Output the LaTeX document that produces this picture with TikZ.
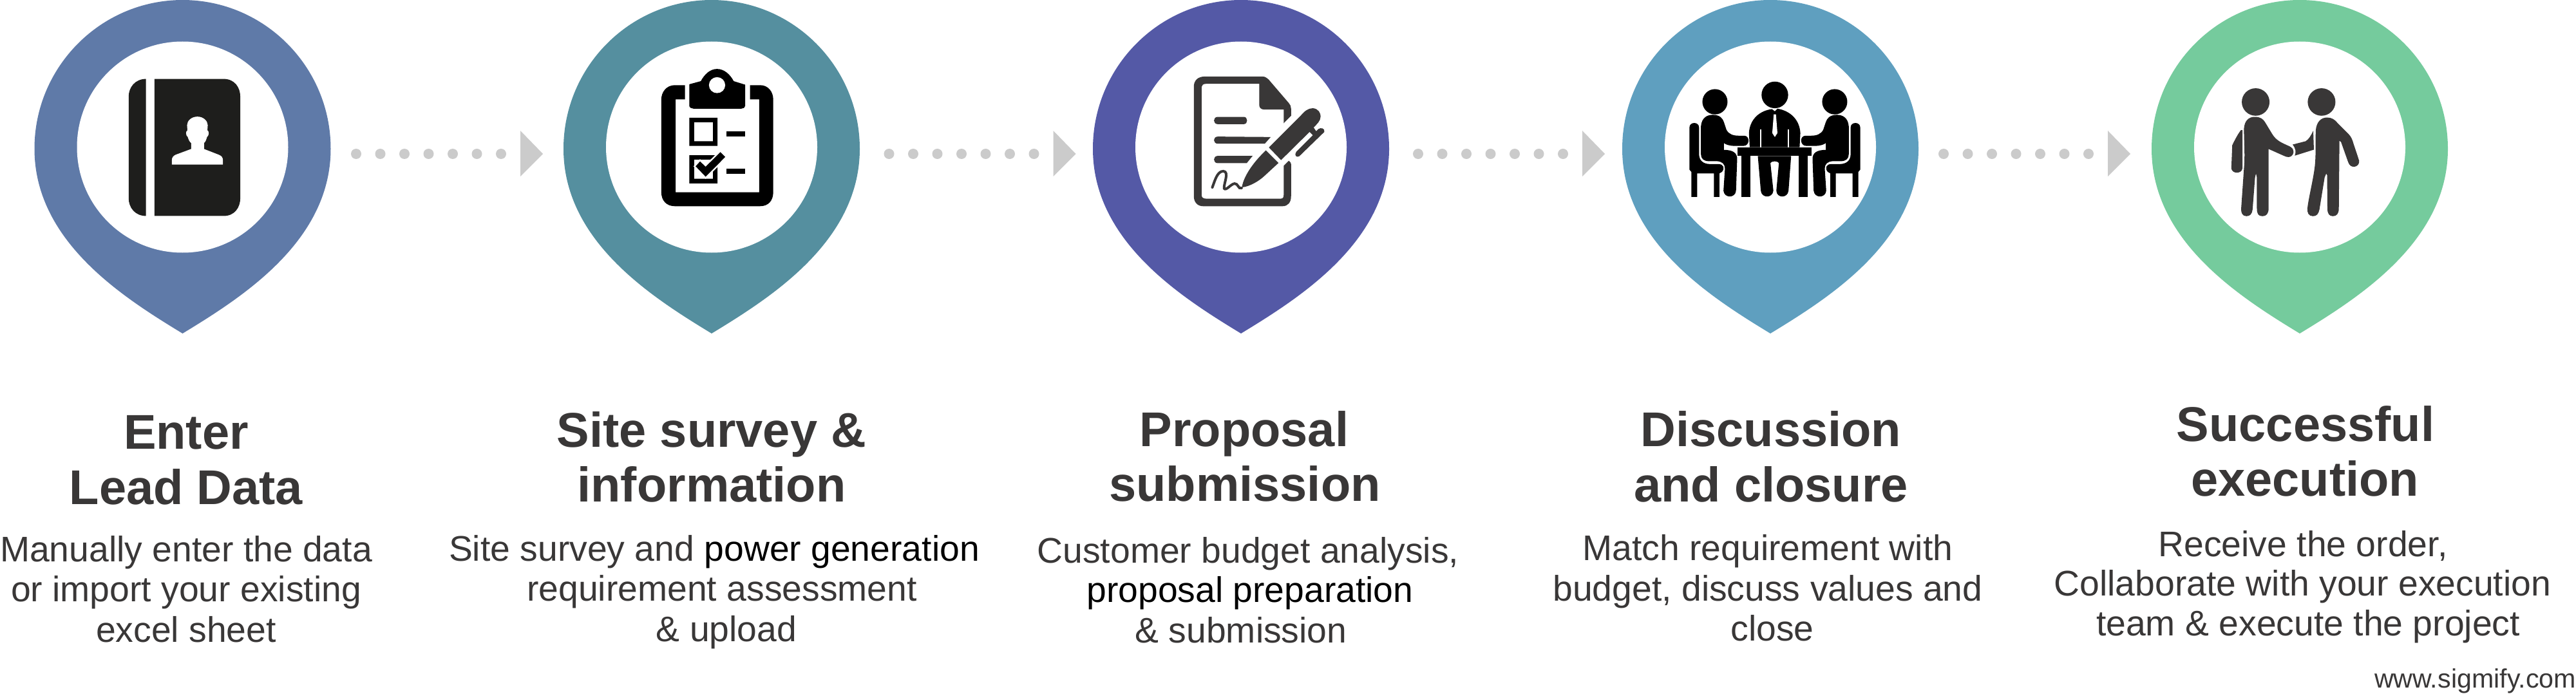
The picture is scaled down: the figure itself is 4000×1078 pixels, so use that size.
\documentclass[tikz,border=0pt]{standalone}
\usepackage{fontspec}
\setmainfont{Liberation Sans}
\usetikzlibrary{calc}
\definecolor{pinA}{HTML}{5F7AA8}
\definecolor{pinB}{HTML}{558F9F}
\definecolor{pinC}{HTML}{5459A6}
\definecolor{pinD}{HTML}{5F9FBF}
\definecolor{pinE}{HTML}{75CB9D}
\definecolor{flowgrey}{HTML}{CBCBCB}
\definecolor{inkdark}{HTML}{393737}
\definecolor{bookink}{HTML}{1E1E1C}
\tikzset{
  pinhole/.style={circle,fill=white,minimum size=328pt,inner sep=0pt,outer sep=0pt},
  titletext/.style={anchor=base,inner sep=0pt,text=inkdark,font=\fontsize{75.8}{85}\selectfont\bfseries},
  bodytext/.style={anchor=base,inner sep=0pt,text=inkdark,font=\fontsize{55.3}{62}\selectfont},
  webtext/.style={anchor=base east,inner sep=0pt,text=inkdark,font=\fontsize{41.2}{46}\selectfont},
  zoomA/.style={x=0.574pt,y=-0.3444pt},
  zoomB/.style={x=0.4783pt,y=-0.3444pt},
}
\newcommand{\pinmark}[3]{%
  \begin{scope}[shift={(#1,0)}]
    \fill[#2] (0,0) .. controls (127,0) and (230,104) .. (230,231)
      .. controls (230,375) and (92,462) .. (0,518)
      .. controls (-92,462) and (-230,375) .. (-230,231)
      .. controls (-230,104) and (-127,0) .. (0,0) -- cycle;
    \node[pinhole] (#3) at (0,228.5) {};
  \end{scope}}
\newcommand{\dotflow}[2]{%
  \coordinate (#1s) at (#2,239);
  \coordinate (#1e) at ($(#1s)+(225,0)$);
  \foreach \k in {0,...,6}
    \fill[flowgrey] ($(#1s)!\k/6!(#1e)$) circle[radius=8pt];
  \fill[flowgrey] ($(#1s)+(255,-36)$) -- ($(#1s)+(290,0)$) -- ($(#1s)+(255,35)$) -- cycle;}
\newcommand{\sideperson}{%
  \fill (371,459) ellipse[x radius=34,y radius=57];
  \fill (333,570) .. controls (335,530) and (350,518) .. (365,518)
    .. controls (385,518) and (392,535) .. (395,550) -- (402,585)
    .. controls (408,605) and (420,612) .. (435,612) -- (450,612)
    .. controls (466,612) and (466,658) .. (448,658) -- (425,658)
    .. controls (410,658) and (400,652) .. (395,645) -- (395,676)
    .. controls (420,676) and (432,690) .. (431,720) -- (428,860)
    .. controls (426,895) and (396,895) .. (394,860) -- (398,760)
    .. controls (398,740) and (390,727) .. (375,727) -- (355,727)
    .. controls (340,727) and (333,715) .. (333,695) -- cycle;
  \fill (302,575) .. controls (302,548) and (328,548) .. (328,575) -- (328,695)
    .. controls (328,725) and (340,740) .. (358,740) -- (380,740)
    .. controls (395,740) and (398,760) .. (390,775) -- (383,782) -- (383,888)
    -- (368,888) -- (368,782) -- (323,782) -- (323,888) -- (307,888) -- (307,775) -- (302,765) -- cycle;}
\begin{document}
\begin{tikzpicture}[x=1pt,y=-1pt]
\useasboundingbox (0,0) rectangle (4000,1078);
\fill[white] (0,0) rectangle (4000,1078);

% pins
\pinmark{283.5}{pinA}{pinone}
\pinmark{1105}{pinB}{pintwo}
\pinmark{1927}{pinC}{pinthree}
\pinmark{2749}{pinD}{pinfour}
\pinmark{3571}{pinE}{pinfive}

% dotted flows
\dotflow{fa}{553}
\dotflow{fb}{1380.5}
\dotflow{fc}{2202}
\dotflow{fd}{3018}

% icon 1: contact book
\begin{scope}[shift={(0,0)},zoomA]
  \fill[bookink] (395,356) .. controls (365,356) and (348,395) .. (348,436) -- (348,894)
    .. controls (348,935) and (365,974) .. (395,974) -- cycle;
  \fill[bookink] (418,356) -- (605,356) .. controls (635,356) and (650,395) .. (650,436) -- (650,894)
    .. controls (650,935) and (635,974) .. (605,974) -- (418,974) -- cycle;
  \fill[white] (534,526) .. controls (518,526) and (506,545) .. (506,565) -- (507,588)
    .. controls (502,590) and (502,612) .. (508,618)
    .. controls (510,630) and (513,640) .. (517,645) -- (517,672) -- (475,698)
    .. controls (468,703) and (465,712) .. (465,722) -- (465,742) -- (603,742) -- (603,722)
    .. controls (603,712) and (600,703) .. (592,698) -- (552,672) -- (552,645)
    .. controls (556,640) and (558,630) .. (560,618)
    .. controls (566,612) and (566,590) .. (561,588) -- (562,565)
    .. controls (562,545) and (550,526) .. (534,526) -- cycle;
\end{scope}

% icon 2: clipboard
\begin{scope}[shift={(850,0)},zoomA]
  \fill[black] (372,384) -- (345,384) .. controls (322,384) and (308,415) .. (308,450) -- (308,865)
    .. controls (308,905) and (322,930) .. (345,930) -- (575,930)
    .. controls (598,930) and (611,905) .. (611,865) -- (611,450)
    .. controls (611,415) and (598,384) .. (575,384) -- (548,384) -- (548,448) -- (573,448)
    -- (573,867) -- (347,867) -- (347,448) -- (372,448) -- cycle;
  \fill[black] (384,380) -- (415,366) .. controls (425,335) and (440,311) .. (459,311)
    .. controls (478,311) and (494,335) .. (504,366) -- (535,382) -- (535,478)
    .. controls (535,485) and (530,490) .. (525,490) -- (395,490)
    .. controls (390,490) and (384,485) .. (384,478) -- cycle;
  \fill[white] (459,384) ellipse[x radius=22,y radius=36];
  \fill[black,even odd rule] (384,531) rectangle (460,658) (397,551) rectangle (448,637);
  \fill[black] (485,593) rectangle (535,616);
  \fill[black,even odd rule] (384,700) rectangle (460,827) (397,720) rectangle (448,806);
  \fill[black] (485,761) rectangle (535,784);
  \path[draw=white,fill=black,line width=5pt,line join=miter]
    (413,728) -- (428,752) -- (468,686) -- (481,708) -- (428,797) -- (401,750) -- cycle;
  \fill[black] (413,728) -- (428,752) -- (468,686) -- (481,708) -- (428,797) -- (401,750) -- cycle;
\end{scope}

% icon 3: document and pen
\begin{scope}[shift={(1650,0)},zoomA,fill=inkdark]
  \fill (385,345) -- (540,345) .. controls (548,345) and (553,352) .. (558,360) -- (612,465)
    .. controls (616,472) and (618,480) .. (618,490) -- (618,522) -- (598,556) -- (598,494) -- (545,494)
    .. controls (537,494) and (532,485) .. (532,475) -- (532,378) -- (388,378)
    .. controls (380,378) and (376,385) .. (376,392) -- (376,880)
    .. controls (376,890) and (380,896) .. (388,896) -- (590,896)
    .. controls (596,896) and (598,890) .. (598,880) -- (598,748) -- (612,725)
    .. controls (616,730) and (618,735) .. (618,740) -- (618,885)
    .. controls (618,912) and (610,930) .. (595,930) -- (380,930)
    .. controls (365,930) and (355,912) .. (355,885) -- (355,390)
    .. controls (355,365) and (365,345) .. (385,345) -- cycle;
  \fill (420,527) -- (490,527) .. controls (502,527) and (502,560) .. (490,560) -- (420,560)
    .. controls (406,560) and (406,527) .. (420,527) -- cycle;
  \fill (420,616) -- (563,618) -- (547,648) -- (420,648)
    .. controls (406,648) and (406,616) .. (420,616) -- cycle;
  \fill (420,703) -- (514,703) -- (498,736) -- (420,736)
    .. controls (406,736) and (406,703) .. (420,703) -- cycle;
  \fill (558,665) -- (645,520) .. controls (655,500) and (665,488) .. (677,488)
    .. controls (692,490) and (698,510) .. (698,525)
    .. controls (698,545) and (688,560) .. (679,575) -- (686,592) -- (692,582)
    .. controls (698,574) and (710,578) .. (708,595) -- (640,705)
    .. controls (632,712) and (626,700) .. (632,685) -- (677,610) -- (668,595) -- (591,722) -- cycle;
  \fill (550,678) -- (584,735) -- (545,795)
    .. controls (530,818) and (505,842) .. (485,845)
    .. controls (490,790) and (520,725) .. (550,678) -- cycle;
  \draw[inkdark,line width=4pt,line cap=round]
    (405,845) .. controls (412,815) and (418,772) .. (435,772)
    .. controls (452,775) and (435,830) .. (437,850)
    .. controls (442,862) and (455,830) .. (465,828)
    .. controls (475,826) and (475,855) .. (484,848);
\end{scope}

% icon 4: meeting
\begin{scope}[shift={(2450,0)},zoomA]
  \fill[black] (533,428) ellipse[x radius=36,y radius=60];
  \fill[black] (525,492) .. controls (490,500) and (465,540) .. (463,600) -- (465,664) -- (600,664)
    -- (602,600) .. controls (600,540) and (575,500) .. (540,490) -- (533,502) -- cycle;
  \fill[white] (530,516) -- (536,516) -- (540,600) -- (533,618) -- (526,600) -- cycle;
  \draw[white,line width=1.5pt] (495,585) -- (495,664) (570,585) -- (570,664);
  \fill[black] (432,664) rectangle (632,704);
  \fill[black] (443,704) rectangle (466,888);
  \fill[black] (598,704) rectangle (622,888);
  \fill[black] (487,704) -- (577,704) -- (570,860) .. controls (568,895) and (538,895) .. (537,860)
    -- (544,735) .. controls (540,725) and (525,725) .. (521,735) -- (529,860)
    .. controls (527,895) and (497,895) .. (495,860) -- cycle;
  \begin{scope}[fill=black]
    \sideperson
  \end{scope}
  \begin{scope}[fill=black,shift={(1066,0)},xscale=-1]
    \sideperson
  \end{scope}
\end{scope}

% icon 5: handshake
\begin{scope}[shift={(3250,0)},zoomB,fill=inkdark]
  \fill (528,460) ellipse[x radius=45,y radius=62];
  \fill (742,460) ellipse[x radius=45,y radius=62];
  \fill (490,580) .. controls (492,545) and (505,527) .. (525,527)
    .. controls (545,527) and (552,538) .. (558,550) -- (582,605)
    .. controls (595,635) and (615,645) .. (630,655)
    .. controls (650,665) and (655,680) .. (648,698)
    .. controls (642,712) and (630,710) .. (620,703) -- (570,672) -- (570,940)
    .. controls (570,965) and (562,975) .. (550,975)
    .. controls (537,975) and (532,965) .. (532,940) -- (532,800) -- (529,783) -- (526,800) -- (518,945)
    .. controls (516,965) and (510,975) .. (498,975)
    .. controls (485,975) and (480,960) .. (481,940) -- (490,760)
    .. controls (494,700) and (490,640) .. (490,580) -- cycle;
  \fill (480,587) -- (485,587) -- (485,760) .. controls (482,785) and (452,785) .. (449,760)
    -- (452,655) .. controls (460,632) and (470,605) .. (480,587) -- cycle;
  \fill (715,590) -- (717,675) -- (655,702) .. controls (660,685) and (658,670) .. (648,652)
    -- (690,637) .. controls (700,630) and (708,610) .. (715,590) -- cycle;
  \fill (723,590) .. controls (725,550) and (740,530) .. (760,530)
    .. controls (775,530) and (785,540) .. (792,552) -- (830,605)
    .. controls (838,617) and (842,630) .. (845,645) -- (864,725)
    .. controls (866,755) and (835,765) .. (828,730) -- (805,640) -- (800,635) -- (798,940)
    .. controls (798,965) and (790,975) .. (779,975)
    .. controls (767,975) and (761,965) .. (761,940) -- (760,790) -- (757,783) -- (752,800) -- (735,945)
    .. controls (732,965) and (726,975) .. (714,975)
    .. controls (700,975) and (695,960) .. (696,940)
    .. controls (700,890) and (715,810) .. (720,750)
    .. controls (724,700) and (722,640) .. (723,590) -- cycle;
\end{scope}

% titles
\node[titletext] (ta1) at (289,697) {Enter};
\node[titletext] (ta2) at (289,783) {Lead Data};
\node[titletext] (tb1) at (1105,694) {Site survey \&};
\node[titletext] (tb2) at (1105,779) {information};
\node[titletext] (tc1) at (1932,693) {Proposal};
\node[titletext] (tc2) at (1933,778) {submission};
\node[titletext] (td1) at (2750,693) {Discussion};
\node[titletext] (td2) at (2750,779) {and closure};
\node[titletext] (te1) at (3580,685) {Successful};
\node[titletext] (te2) at (3579,770) {execution};

% body text
\node[bodytext] (ba1) at (289,872) {Manually enter the data};
\node[bodytext] (ba2) at (289,934) {or import your existing};
\node[bodytext] (ba3) at (289,997) {excel sheet};
\node[bodytext] (bb1) at (1109,871) {Site survey and \textcolor{black}{power generation}};
\node[bodytext] (bb2) at (1121,933) {requirement assessment};
\node[bodytext] (bb3) at (1128,996) {\& upload};
\node[bodytext] (bc1) at (1938,874) {Customer budget analysis,};
\node[bodytext,text=black] (bc2) at (1941,935) {proposal preparation};
\node[bodytext] (bc3) at (1927,998) {\& submission};
\node[bodytext] (bd1) at (2745,870) {Match requirement with};
\node[bodytext] (bd2) at (2745,933) {budget, discuss values and};
\node[bodytext] (bd3) at (2752,995) {close};
\node[bodytext] (be1) at (3576,864) {Receive the order,};
\node[bodytext] (be2) at (3575.5,925) {Collaborate with your execution};
\node[bodytext] (be3) at (3584,987) {team \& execute the project};
\node[webtext] (web) at (4000,1068) {www.sigmify.com};
\end{tikzpicture}
\end{document}
